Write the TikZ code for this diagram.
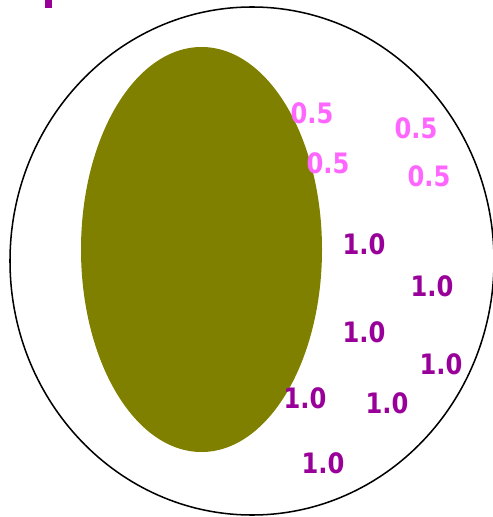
\documentclass[tikz,border=0pt]{standalone}
\usepackage{fontspec}
\usepackage{xcolor,tikz}
\usetikzlibrary{positioning}
\newfontfamily\valuefont{DejaVu Sans}
\definecolor{olivefill}{RGB}{128,128,0}
\definecolor{pinkval}{RGB}{255,102,255}
\definecolor{purpleval}{RGB}{153,0,153}
\tikzset{
  val/.style={inner sep=0pt, xscale=0.86, font=\valuefont\bfseries\fontsize{24}{26}\selectfont},
  halfval/.style={val, text=pinkval},
  fullval/.style={val, text=purpleval},
  outer/.style={draw=black, line width=1.3pt},
  inner/.style={fill=olivefill, draw=none}
}
\begin{document}
\begin{tikzpicture}[x=0.03cm,y=-0.03cm]
  \useasboundingbox (0,0) rectangle (492,517);
  \draw[outer] (252,261) ellipse [x radius=242, y radius=254];
  \fill[inner] (201.5,249.5) ellipse [x radius=120.5, y radius=202.5];
  \fill[purpleval] (45,0) rectangle (52,8);
  % weights 0.5
  \foreach \n/\x/\y in {1/312/113,2/328/163,3/416/128,4/429/176}
    \node[halfval] (half\n) at (\x,\y) {0.5};
  % weights 1.0
  \foreach \n/\x/\y in {1/364/244,2/432/286,3/364/332,4/441/364,5/305/398,6/387/403,7/323/463}
    \node[fullval] (full\n) at (\x,\y) {1.0};
\end{tikzpicture}
\end{document}
